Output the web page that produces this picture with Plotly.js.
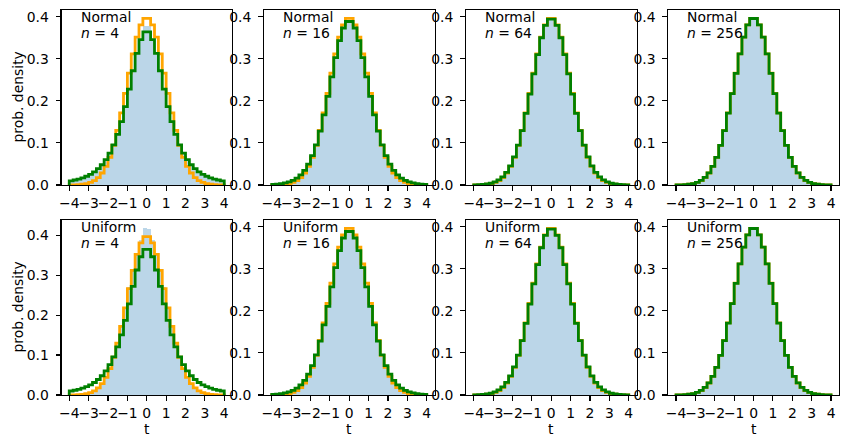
<!DOCTYPE html>
<html>
<head>
<meta charset="utf-8">
<script src="https://cdn.plot.ly/plotly-3.0.1.min.js"></script>
<style>html,body{margin:0;padding:0;background:#fff;}#chart{width:846px;height:448px;}</style>
</head>
<body>
<div id="chart"></div>
<script>
// ---------------- data ----------------
const binEdges = [-4,-3.8,-3.6,-3.4,-3.2,-3,-2.8,-2.6,-2.4,-2.2,-2,-1.8,-1.6,-1.4,-1.2,-1,-0.8,-0.6,-0.4,-0.2,0,0.2,0.4,0.6,0.8,1,1.2,1.4,1.6,1.8,2,2.2,2.4,2.6,2.8,3,3.2,3.4,3.6,3.8,4];
const xTickVals = [-4,-3,-2,-1,0,1,2,3,4];
const xTickText = ["\u22124","\u22123","\u22122","\u22121","0","1","2","3","4"];
const yTickVals = [0,0.1,0.2,0.3,0.4];
const yTickText = ["0.0","0.1","0.2","0.3","0.4"];
const sampleSizes = [4,16,64,256];
const parentNames = ["Normal","Uniform"];

// orange: normal density per bin
const normalRef = [0.0002,0.0005,0.0009,0.0018,0.0033,0.0061,0.0105,0.0177,0.0285,0.0443,0.0659,0.0944,0.1298,0.1716,0.2180,0.2660,0.3120,0.3517,0.3808,0.3963,
                   0.3963,0.3808,0.3517,0.3120,0.2660,0.2180,0.1716,0.1298,0.0944,0.0659,0.0443,0.0285,0.0177,0.0105,0.0061,0.0033,0.0018,0.0009,0.0005,0.0002];
// green: Student t density per bin
const tRef4 = [0.0100,0.0119,0.0142,0.0171,0.0208,0.0254,0.0313,0.0388,0.0482,0.0602,0.0758,0.0954,0.1202,0.1505,0.1865,0.2278,0.2717,0.3128,0.3459,0.3643,
               0.3643,0.3459,0.3128,0.2717,0.2278,0.1865,0.1505,0.1202,0.0954,0.0758,0.0602,0.0482,0.0388,0.0313,0.0254,0.0208,0.0171,0.0142,0.0119,0.0100];
const tRef16 = [0.0014,0.0022,0.0033,0.0050,0.0075,0.0111,0.0165,0.0241,0.0349,0.0498,0.0698,0.0956,0.1280,0.1667,0.2105,0.2571,0.3028,0.3431,0.3733,0.3888,
                0.3888,0.3733,0.3431,0.3028,0.2571,0.2105,0.1667,0.1280,0.0956,0.0698,0.0498,0.0349,0.0241,0.0165,0.0111,0.0075,0.0050,0.0033,0.0022,0.0014];
const tRef64 = [0.0004,0.0007,0.0013,0.0024,0.0042,0.0072,0.0120,0.0193,0.0301,0.0456,0.0668,0.0946,0.1293,0.1703,0.2162,0.2640,0.3101,0.3501,0.3796,0.3946,
                0.3946,0.3796,0.3501,0.3101,0.2640,0.2162,0.1703,0.1293,0.0946,0.0668,0.0456,0.0301,0.0193,0.0120,0.0072,0.0042,0.0024,0.0013,0.0007,0.0004];
const tRef256 = [0.0002,0.0005,0.0010,0.0019,0.0035,0.0063,0.0108,0.0180,0.0288,0.0444,0.0659,0.0942,0.1295,0.1711,0.2174,0.2656,0.3117,0.3516,0.3809,0.3959,
                 0.3959,0.3809,0.3516,0.3117,0.2656,0.2174,0.1711,0.1295,0.0942,0.0659,0.0444,0.0288,0.0180,0.0108,0.0063,0.0035,0.0019,0.0010,0.0005,0.0002];
// blue: simulated histograms
const histNormal4 = [0.0095,0.0121,0.0138,0.0175,0.0210,0.0250,0.0318,0.0384,0.0487,0.0598,0.0765,0.0949,0.1210,0.1498,0.1872,0.2285,0.2722,0.3135,0.3470,0.3785,
                     0.3780,0.3462,0.3120,0.2710,0.2270,0.1858,0.1510,0.1195,0.0960,0.0752,0.0605,0.0478,0.0392,0.0310,0.0258,0.0205,0.0168,0.0145,0.0116,0.0098];
const histNormal16 = [0.0013,0.0021,0.0034,0.0048,0.0077,0.0109,0.0167,0.0238,0.0352,0.0495,0.0701,0.0952,0.1285,0.1662,0.2110,0.2566,0.3035,0.3425,0.3740,0.3882,
                      0.3893,0.3728,0.3436,0.3022,0.2577,0.2099,0.1671,0.1276,0.0960,0.0694,0.0501,0.0346,0.0244,0.0162,0.0113,0.0073,0.0052,0.0032,0.0023,0.0013];
const histNormal64 = [0.0004,0.0008,0.0012,0.0025,0.0041,0.0073,0.0118,0.0195,0.0299,0.0458,0.0665,0.0949,0.1290,0.1707,0.2158,0.2645,0.3097,0.3506,0.3791,0.3950,
                      0.3942,0.3800,0.3497,0.3105,0.2636,0.2166,0.1699,0.1296,0.0943,0.0671,0.0453,0.0303,0.0191,0.0122,0.0071,0.0043,0.0023,0.0014,0.0007,0.0004];
const histNormal256 = [0.0002,0.0005,0.0011,0.0018,0.0036,0.0062,0.0110,0.0178,0.0290,0.0441,0.0662,0.0939,0.1298,0.1707,0.2178,0.2652,0.3121,0.3512,0.3813,0.3955,
                       0.3962,0.3805,0.3520,0.3113,0.2660,0.2170,0.1715,0.1292,0.0945,0.0656,0.0447,0.0286,0.0182,0.0106,0.0064,0.0034,0.0020,0.0009,0.0005,0.0002];
const histUniform4 = [0.0003,0.0006,0.0011,0.0020,0.0036,0.0063,0.0110,0.0185,0.0300,0.0460,0.0680,0.0965,0.1320,0.1720,0.2200,0.2690,0.3150,0.3560,0.3890,0.4170,
                      0.4165,0.3885,0.3555,0.3145,0.2695,0.2195,0.1725,0.1315,0.0960,0.0675,0.0462,0.0298,0.0183,0.0112,0.0062,0.0035,0.0020,0.0011,0.0006,0.0003];
const histUniform16 = [0.0010,0.0017,0.0028,0.0043,0.0068,0.0102,0.0155,0.0232,0.0342,0.0490,0.0696,0.0958,0.1290,0.1680,0.2125,0.2590,0.3045,0.3450,0.3760,0.3920,
                       0.3915,0.3755,0.3455,0.3040,0.2585,0.2130,0.1675,0.1295,0.0955,0.0700,0.0488,0.0345,0.0230,0.0158,0.0100,0.0070,0.0042,0.0029,0.0017,0.0010];
const histUniform64 = [0.0003,0.0006,0.0012,0.0023,0.0040,0.0070,0.0117,0.0190,0.0298,0.0453,0.0667,0.0947,0.1295,0.1708,0.2165,0.2646,0.3106,0.3505,0.3803,0.3955,
                       0.3950,0.3799,0.3508,0.3100,0.2650,0.2160,0.1710,0.1291,0.0950,0.0664,0.0457,0.0298,0.0192,0.0118,0.0071,0.0041,0.0023,0.0012,0.0006,0.0003];
const histUniform256 = [0.0002,0.0005,0.0010,0.0019,0.0034,0.0063,0.0106,0.0180,0.0287,0.0446,0.0657,0.0944,0.1293,0.1714,0.2172,0.2660,0.3115,0.3519,0.3806,0.3962,
                        0.3957,0.3812,0.3514,0.3120,0.2653,0.2177,0.1708,0.1298,0.0940,0.0661,0.0442,0.0290,0.0179,0.0109,0.0062,0.0036,0.0018,0.0010,0.0005,0.0002];

const tRefs = [tRef4, tRef16, tRef64, tRef256];
const hists = [[histNormal4, histNormal16, histNormal64, histNormal256],
               [histUniform4, histUniform16, histUniform64, histUniform256]];

// ---------------- layout geometry (px) ----------------
const W = 846, H = 448;
const panelLeft = [61.5, 264, 466, 668.3];
const panelW = 170.5;
const rowTop = [10, 220];
const panelH = 175;
const FONT = 'DejaVu Sans, sans-serif';
const FS = 13.9;

function stepXY(vals) {
  const x = [binEdges[0]];
  const y = [0];
  for (let i = 0; i < vals.length; i++) { x.push(binEdges[i]); y.push(vals[i]); }
  x.push(binEdges[binEdges.length - 1]); y.push(vals[vals.length - 1]);
  x.push(binEdges[binEdges.length - 1]); y.push(0);
  return {x, y};
}

const traces = [];
const layout = {
  width: W, height: H,
  margin: {l: 0, r: 0, t: 0, b: 0},
  paper_bgcolor: 'white', plot_bgcolor: 'white',
  showlegend: false,
  barmode: 'overlay', bargap: 0,
  font: {family: FONT, size: FS, color: 'black'},
  annotations: []
};

let k = 0;
for (let r = 0; r < 2; r++) {
  for (let c = 0; c < 4; c++) {
    k++;
    const xa = 'x' + k, ya = 'y' + k;
    const hv = hists[r][c];
    const tv = tRefs[c];
    traces.push({
      type: 'bar', x: binEdges.slice(0, 40), y: hv, offset: 0, width: 0.2,
      marker: {color: 'rgba(31,119,180,0.3)', line: {width: 0}},
      xaxis: xa, yaxis: ya, hoverinfo: 'skip'
    });
    const so = stepXY(normalRef);
    traces.push({type: 'scatter', mode: 'lines', x: so.x, y: so.y, line: {shape: 'hv', color: '#FFA500', width: 2.8},
      xaxis: xa, yaxis: ya, hoverinfo: 'skip'});
    const sg = stepXY(tv);
    traces.push({type: 'scatter', mode: 'lines', x: sg.x, y: sg.y, line: {shape: 'hv', color: '#008000', width: 2.8},
      xaxis: xa, yaxis: ya, hoverinfo: 'skip'});

    const ymax = Math.max(...hv, ...tv, ...normalRef) * 1.05;
    const x0 = panelLeft[c], y0 = rowTop[r];
    const axBase = {
      showline: true, mirror: true, linecolor: 'black', linewidth: 1.1,
      ticks: 'outside', ticklen: 4.9, tickwidth: 1.1, tickcolor: 'black',
      showgrid: false, zeroline: false, fixedrange: true, tickangle: 0,
      tickfont: {family: FONT, size: FS, color: 'black'}
    };
    layout['xaxis' + k] = Object.assign({}, axBase, {
      domain: [x0 / W, (x0 + panelW) / W], anchor: ya,
      range: [-4.4, 4.4], tickmode: 'array', tickvals: xTickVals, ticktext: xTickText,
      ticklabelstandoff: 0
    });
    layout['yaxis' + k] = Object.assign({}, axBase, {
      domain: [1 - (y0 + panelH) / H, 1 - y0 / H], anchor: xa,
      range: [0, ymax], tickmode: 'array', tickvals: yTickVals, ticktext: yTickText,
      ticklabelstandoff: 4
    });
    // two-line panel label (line spacing adjusted after drawing)
    layout.annotations.push({
      text: parentNames[r] + '<br><i>n</i> = ' + sampleSizes[c],
      xref: 'paper', yref: 'paper', x: (x0 + 17) / W, y: 1 - (y0 - 3.5) / H,
      xanchor: 'left', yanchor: 'top', align: 'left', showarrow: false,
      font: {family: FONT, size: FS, color: 'black'}
    });
    if (c === 0) {
      layout.annotations.push({
        text: 'prob. density', xref: 'paper', yref: 'paper', x: 17 / W, y: 1 - (y0 + panelH / 2) / H,
        xanchor: 'center', yanchor: 'middle', textangle: -90, showarrow: false, font: {family: FONT, size: FS, color: 'black'}
      });
    }
    if (r === 1) {
      layout.annotations.push({
        text: 't', xref: 'paper', yref: 'paper', x: (x0 + panelW / 2) / W, y: 1 - 429 / H,
        xanchor: 'center', yanchor: 'middle', showarrow: false, font: {family: FONT, size: FS, color: 'black'}
      });
    }
  }
}

function tightenLabels() {
  document.querySelectorAll('#chart .annotation-text tspan.line').forEach(function (t) {
    const dy = t.getAttribute('dy');
    if (dy && parseFloat(dy) > 1) t.setAttribute('dy', '1.18em');
  });
}
Plotly.newPlot('chart', traces, layout, {staticPlot: true, displayModeBar: false}).then(function (gd) {
  tightenLabels();
  gd.on('plotly_afterplot', tightenLabels);
});
</script>
</body>
</html>
